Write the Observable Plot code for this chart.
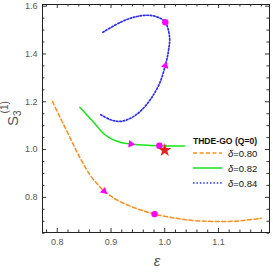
<!DOCTYPE html>
<html><head><meta charset="utf-8">
<script src="https://cdn.jsdelivr.net/npm/d3@7"></script>
<script src="https://cdn.jsdelivr.net/npm/@observablehq/plot@0.6"></script>
<style>
html,body{margin:0;padding:0;background:#fff;}
#wrap{position:relative;width:273px;height:273px;font-family:"Liberation Sans",Arial,sans-serif;}
#wrap svg{position:absolute;left:0;top:0;}
</style></head>
<body><div id="wrap"></div>
<script>
// δ = 0.80 (orange, dashed)
const orangeX = [0.791,0.805,0.819,0.830,0.840,0.851,0.862,0.875,0.887,0.900,0.912,0.937,0.960,0.981,1.012,1.040,1.080,1.118,1.150,1.180];
const orangeY = [1.201,1.135,1.072,1.020,0.975,0.930,0.890,0.855,0.826,0.805,0.788,0.762,0.744,0.730,0.716,0.706,0.700,0.699,0.704,0.713];
// δ = 0.82 (green, solid)
const greenX = [0.842,0.852,0.862,0.872,0.881,0.890,0.900,0.910,0.918,0.937,0.960,0.990,1.037];
const greenY = [1.177,1.153,1.128,1.103,1.079,1.060,1.046,1.036,1.030,1.023,1.019,1.016,1.015];
// δ = 0.84 (blue, dotted)
const blueX = [0.881,0.900,0.918,0.937,0.956,0.974,0.990,1.001,1.007,1.009,1.001,0.987,0.968,0.943,0.918,0.885];
const blueY = [1.146,1.124,1.118,1.132,1.163,1.212,1.275,1.351,1.414,1.470,1.533,1.554,1.562,1.554,1.533,1.491];
// present-day points (magenta) and arrow locations
const dotX = [0.981,0.990,1.001];
const dotY = [0.730,1.016,1.533];
const arrowIdx = [8,9,7]; // index in each series where the direction arrow sits
const starX = [1.0];
const starY = [0.997];
const deltas = ["0.80","0.82","0.84"];
const legendTitle = "THDE-GO (Q=0)";
const xTicks = [0.8,0.9,1.0,1.1];
const yTicks = [0.8,1.0,1.2,1.4,1.6];

const colors = ["#ff8c1a","#14e614","#2a2aff"];
const dashes = ["4,2.5",null,"1.5,1.9"];
const widths = [1.5,1.5,1.7];

const W = 273, H = 273, mL = 42, mR = 4, mT = 4, mB = 41;
const iw = W-mL-mR, ih = H-mT-mB;
const xDom = [0.7725,1.195], yDom = [0.653,1.607];
const kx = iw/(xDom[1]-xDom[0]), ky = ih/(yDom[1]-yDom[0]);

const seriesX = [orangeX,greenX,blueX], seriesY = [orangeY,greenY,blueY];
const series = seriesX.map((xs,s)=>xs.map((x,i)=>({x,y:seriesY[s][i],s})));
const arrows = arrowIdx.map((i,s)=>{
  const xs=seriesX[s], ys=seriesY[s];
  const dx=(xs[i+1]-xs[i-1])*kx, dy=-(ys[i+1]-ys[i-1])*ky;
  return {x:xs[i],y:ys[i],r:Math.atan2(dx,-dy)*180/Math.PI};
});
const dots = dotX.map((x,i)=>({x,y:dotY[i]}));
const stars = starX.map((x,i)=>({x,y:starY[i]}));

const minorX = d3.range(0.78,1.195,0.02).map(v=>+v.toFixed(2)).filter(v=>!xTicks.some(m=>Math.abs(m-v)<1e-6));
const minorY = d3.range(0.65,1.607,0.05).map(v=>+v.toFixed(2)).filter(v=>!yTicks.some(m=>Math.abs(m-v)<1e-6));

const tk = {stroke:"#333",strokeWidth:1};
const marks = [
  Plot.axisX(xTicks,{anchor:"bottom",tickSize:0,tickPadding:6,tickFormat:d3.format(".1f"),fill:"#555",fontSize:9,label:null}),
  Plot.axisY(yTicks,{anchor:"left",tickSize:0,tickPadding:5,tickFormat:d3.format(".1f"),fill:"#555",fontSize:9,label:null}),
  // inward ticks on all four sides
  Plot.tickX(xTicks,{x:d=>d,insetTop:ih-4,...tk}),
  Plot.tickX(xTicks,{x:d=>d,insetBottom:ih-4,...tk}),
  Plot.tickX(minorX,{x:d=>d,insetTop:ih-2.5,...tk}),
  Plot.tickX(minorX,{x:d=>d,insetBottom:ih-2.5,...tk}),
  Plot.tickY(yTicks,{y:d=>d,insetRight:iw-4,...tk}),
  Plot.tickY(yTicks,{y:d=>d,insetLeft:iw-4,...tk}),
  Plot.tickY(minorY,{y:d=>d,insetRight:iw-2.5,...tk}),
  Plot.tickY(minorY,{y:d=>d,insetLeft:iw-2.5,...tk}),
  Plot.frame({stroke:"#222",strokeWidth:1}),
];
series.forEach((d,s)=>{
  marks.push(Plot.line(d,{x:"x",y:"y",curve:"catmull-rom",stroke:colors[s],strokeWidth:widths[s],strokeDasharray:dashes[s]}));
});
marks.push(Plot.dot(arrows,{x:"x",y:"y",symbol:"triangle",r:2.8,rotate:"r",fill:"#ff00ff",stroke:"none"}));
marks.push(Plot.dot(dots,{x:"x",y:"y",r:3.2,fill:"#ff00ff",stroke:"none"}));
marks.push(Plot.dot(stars,{x:"x",y:"y",symbol:"star",r:4.2,fill:"#e8201c",stroke:"none"}));

const chart = Plot.plot({
  width:W,height:H,marginLeft:mL,marginRight:mR,marginTop:mT,marginBottom:mB,
  x:{domain:xDom},y:{domain:yDom},
  style:{fontFamily:"'Liberation Sans',Arial,sans-serif",background:"white"},
  marks
});
const wrap = document.getElementById("wrap");
wrap.appendChild(chart);

// overlay: axis titles and legend
const ov = d3.select(wrap).append("svg").attr("width",W).attr("height",H).style("pointer-events","none")
  .style("font-family","'Liberation Sans',Arial,sans-serif");
const yl = ov.append("text").attr("transform","translate(18,126) rotate(-90)").attr("fill","#555").attr("font-size",15);
yl.append("tspan").text("S");
yl.append("tspan").attr("font-size",10).attr("dy",3).text("3");
yl.append("tspan").attr("font-size",10).attr("dx",-3).attr("dy",-13).text("(1)");
ov.append("text").attr("x",157).attr("y",266).attr("text-anchor","middle").attr("fill","#555")
  .attr("font-size",15).attr("font-style","italic").text("ε");
ov.append("text").attr("x",225).attr("y",144).attr("text-anchor","middle").attr("font-size",8.6)
  .attr("font-weight","bold").attr("fill","#111").text(legendTitle);
deltas.forEach((d,i)=>{
  const y=153+15*i;
  ov.append("line").attr("x1",193).attr("x2",222).attr("y1",y).attr("y2",y).attr("stroke",colors[i])
    .attr("stroke-width",widths[i]).attr("stroke-dasharray",dashes[i]);
  const t=ov.append("text").attr("x",228).attr("y",y+3.5).attr("font-size",9.5).attr("fill","#111");
  t.append("tspan").attr("font-style","italic").text("δ");
  t.append("tspan").text("="+d);
});
</script></body></html>
